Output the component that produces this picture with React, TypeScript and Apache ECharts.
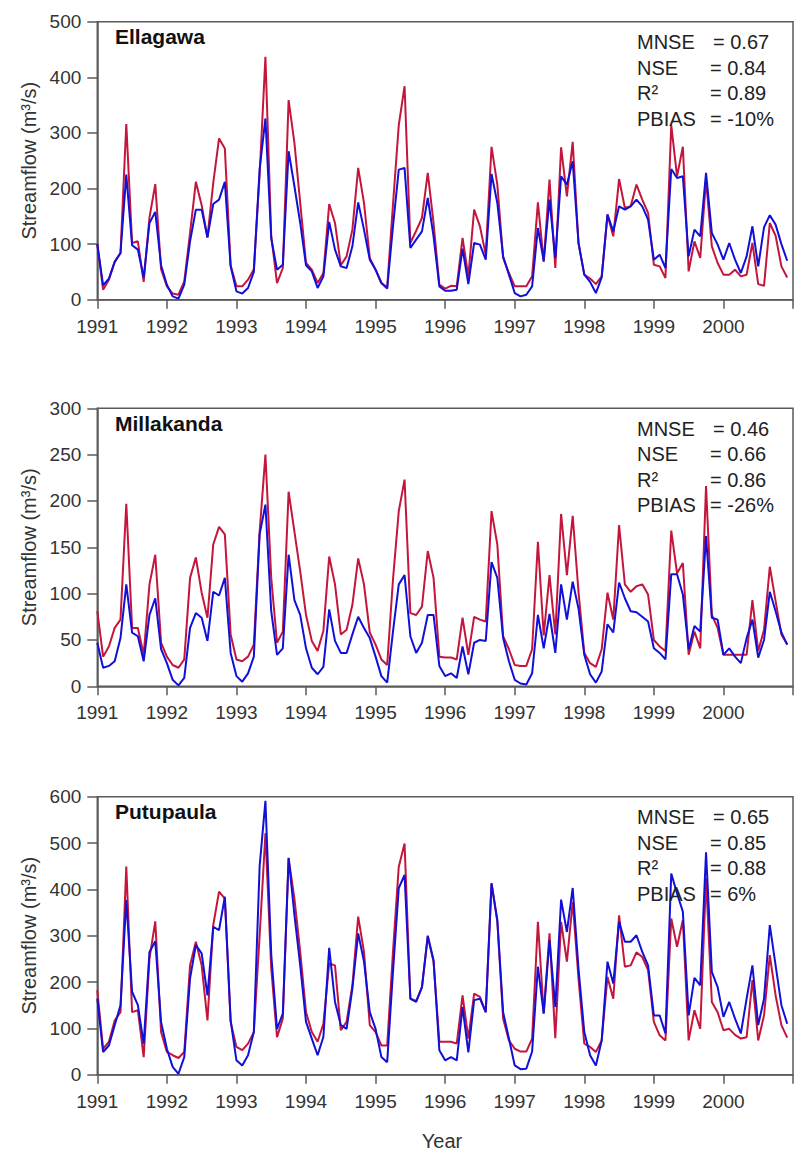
import React, { useEffect, useRef } from "react";
import * as echarts from "echarts";

// Year tick labels on every x axis
const yearTicks = [1991, 1992, 1993, 1994, 1995, 1996, 1997, 1998, 1999, 2000];

// Monthly streamflow (m3/s), Jan 1991 onward; red = observed, blue = simulated
const ellagawaObs = [
  100, 18, 36, 68, 84, 316, 102, 105, 32, 148,
  208, 55, 24, 11, 9, 33, 120, 212, 170, 112,
  210, 290, 272, 62, 24, 24, 36, 55, 225, 437,
  115, 30, 57, 359, 282, 174, 66, 54, 30, 48,
  172, 138, 62, 78, 126, 237, 174, 75, 54, 30,
  22, 171, 314, 384, 102, 124, 147, 228, 138, 27,
  20, 25, 24, 111, 42, 162, 132, 81, 275, 207,
  75, 48, 24, 24, 24, 42, 175, 68, 216, 57,
  274, 186, 284, 102, 45, 38, 28, 42, 153, 114,
  217, 165, 168, 207, 180, 156, 63, 60, 39, 314,
  222, 275, 51, 105, 75, 216, 96, 66, 45, 45,
  54, 42, 45, 102, 28, 25, 138, 115, 60, 40,
];
const ellagawaSim = [
  100, 26, 38, 68, 84, 225, 98, 90, 40, 138,
  158, 62, 27, 6, 2, 27, 105, 162, 162, 112,
  172, 180, 212, 60, 15, 11, 21, 50, 235, 326,
  110, 54, 63, 267, 204, 138, 62, 51, 21, 42,
  140, 90, 60, 57, 96, 175, 126, 72, 54, 30,
  20, 132, 234, 237, 93, 108, 123, 183, 114, 24,
  16, 16, 18, 92, 28, 102, 99, 72, 226, 174,
  78, 45, 12, 6, 9, 24, 129, 70, 180, 75,
  222, 207, 249, 102, 45, 32, 12, 40, 153, 123,
  168, 162, 168, 180, 168, 144, 72, 81, 57, 235,
  219, 222, 78, 126, 114, 228, 120, 99, 72, 102,
  72, 48, 78, 132, 60, 130, 152, 135, 100, 70,
];
const millakandaObs = [
  81, 32, 43, 63, 72, 197, 63, 63, 34, 110,
  142, 47, 32, 23, 20, 29, 117, 139, 101, 74,
  153, 172, 164, 56, 29, 27, 32, 45, 167, 250,
  117, 47, 59, 210, 167, 124, 77, 49, 38, 60,
  140, 110, 56, 61, 88, 138, 110, 58, 45, 29,
  23, 115, 189, 223, 79, 77, 86, 146, 117, 32,
  31, 31, 29, 74, 34, 75, 72, 70, 189, 153,
  54, 40, 23, 22, 22, 40, 156, 55, 120, 56,
  186, 120, 184, 102, 36, 25, 21, 40, 101, 72,
  174, 110, 102, 108, 110, 99, 50, 43, 38, 168,
  122, 133, 34, 59, 41, 216, 77, 63, 34, 34,
  34, 34, 34, 93, 38, 61, 129, 92, 56, 45,
];
const millakandaSim = [
  47, 20, 22, 27, 52, 110, 58, 54, 27, 77,
  95, 40, 25, 7, 1, 9, 63, 79, 74, 49,
  102, 98, 117, 36, 11, 5, 14, 32, 164, 196,
  81, 34, 41, 142, 93, 77, 41, 20, 13, 21,
  83, 49, 36, 36, 56, 75, 63, 52, 32, 11,
  4, 59, 110, 120, 54, 36, 47, 77, 77, 22,
  11, 14, 9, 43, 13, 47, 50, 49, 134, 117,
  52, 27, 7, 3, 2, 14, 77, 41, 78, 36,
  110, 72, 113, 84, 34, 13, 4, 16, 67, 58,
  112, 95, 81, 80, 75, 70, 41, 36, 29, 121,
  121, 99, 40, 65, 59, 162, 74, 72, 34, 41,
  32, 25, 52, 72, 31, 50, 102, 81, 58, 45,
];
const putupaulaObs = [
  182, 56, 71, 117, 135, 449, 135, 139, 38, 251,
  331, 92, 49, 42, 36, 49, 236, 287, 236, 117,
  323, 395, 380, 114, 60, 53, 67, 92, 300, 521,
  230, 81, 121, 467, 380, 265, 135, 92, 71, 110,
  240, 236, 96, 114, 193, 341, 265, 107, 92, 63,
  63, 265, 449, 499, 164, 159, 189, 298, 244, 71,
  71, 71, 67, 171, 78, 175, 168, 135, 413, 330,
  121, 74, 56, 50, 50, 78, 330, 132, 305, 79,
  330, 244, 373, 208, 67, 60, 49, 74, 211, 164,
  344, 233, 236, 264, 254, 226, 114, 85, 74, 337,
  276, 334, 74, 139, 99, 424, 157, 135, 96, 99,
  86, 78, 81, 204, 74, 128, 258, 171, 107, 80,
];
const putupaulaSim = [
  164, 49, 63, 107, 150, 377, 179, 150, 67, 265,
  288, 114, 56, 17, 2, 38, 208, 280, 262, 171,
  319, 312, 384, 117, 31, 20, 42, 92, 450, 591,
  260, 99, 132, 468, 345, 236, 114, 78, 42, 82,
  274, 157, 107, 99, 186, 305, 244, 135, 99, 38,
  27, 222, 403, 431, 164, 157, 189, 300, 247, 53,
  31, 38, 31, 146, 48, 161, 164, 135, 413, 334,
  135, 78, 20, 12, 13, 50, 233, 132, 290, 146,
  378, 308, 403, 229, 92, 42, 20, 74, 244, 197,
  330, 287, 287, 301, 265, 236, 128, 128, 89, 434,
  391, 352, 128, 209, 193, 480, 222, 189, 125, 157,
  121, 89, 164, 236, 107, 164, 323, 236, 150, 110,
];

// Performance statistics per station
const statLabels = ["MNSE", "NSE", "R²", "PBIAS"];
const ellagawaStats = ["= 0.67", "= 0.84", "= 0.89", "= -10%"];
const millakandaStats = ["= 0.46", "= 0.66", "= 0.86", "= -26%"];
const putupaulaStats = ["= 0.65", "= 0.85", "= 0.88", "= 6%"];

const stationNames = ["Ellagawa", "Millakanda", "Putupaula"];
const yMaxes = [500, 300, 600];
const ySteps = [100, 50, 100];

const FONT = "'Liberation Sans', Arial, sans-serif";
const RED = "#C4163C";
const BLUE = "#1010D8";
const AXIS = "#5a5a5a";
const TEXT = "#333333";

export default function App() {
  const ref = useRef<HTMLDivElement>(null);

  useEffect(() => {
    if (!ref.current) return;
    const chart = echarts.init(ref.current, undefined, { renderer: "svg" });

    const obsList = [ellagawaObs, millakandaObs, putupaulaObs];
    const simList = [ellagawaSim, millakandaSim, putupaulaSim];
    const statList = [ellagawaStats, millakandaStats, putupaulaStats];
    const tops = [21.7, 408.3, 796.7];
    const left = 97.3;
    const gridH = 278;

    const grids: any[] = [];
    const xAxes: any[] = [];
    const yAxes: any[] = [];
    const series: any[] = [];
    const graphics: any[] = [];

    for (let k = 0; k < 3; k++) {
      grids.push({
        left,
        top: tops[k],
        width: 712,
        height: gridH,
        show: true,
        borderColor: AXIS,
        borderWidth: 1.5,
        backgroundColor: "transparent",
      });
      xAxes.push({
        gridIndex: k,
        type: "value",
        min: 1991,
        max: 2001,
        interval: 1,
        axisLine: { show: true, lineStyle: { color: AXIS, width: 1.5 } },
        axisTick: { show: true, length: 9, lineStyle: { color: AXIS, width: 1.5 } },
        axisLabel: {
          margin: 17,
          fontSize: 19,
          color: TEXT,
          fontFamily: FONT,
          formatter: (v: number) => (yearTicks.includes(v) ? String(v) : ""),
        },
        splitLine: { show: false },
      });
      yAxes.push({
        gridIndex: k,
        type: "value",
        min: 0,
        max: yMaxes[k],
        interval: ySteps[k],
        name: "Streamflow (m³/s)",
        nameLocation: "middle",
        nameGap: 57,
        nameRotate: 90,
        nameTextStyle: { fontSize: 20, color: TEXT, fontFamily: FONT },
        axisLine: { show: true, lineStyle: { color: AXIS, width: 1.5 } },
        axisTick: { show: true, length: 10, lineStyle: { color: AXIS, width: 1.5 } },
        axisLabel: { margin: 16, fontSize: 19, color: TEXT, fontFamily: FONT },
        splitLine: { show: false },
      });
      series.push({
        type: "line",
        xAxisIndex: k,
        yAxisIndex: k,
        data: obsList[k].map((v, i) => [1991 + i / 12, v]),
        showSymbol: false,
        symbol: "none",
        lineStyle: { color: RED, width: 2 },
        itemStyle: { color: RED },
        z: 2,
      });
      series.push({
        type: "line",
        xAxisIndex: k,
        yAxisIndex: k,
        data: simList[k].map((v, i) => [1991 + i / 12, v]),
        showSymbol: false,
        symbol: "none",
        lineStyle: { color: BLUE, width: 2 },
        itemStyle: { color: BLUE },
        z: 3,
      });

      graphics.push({
        type: "text",
        z: 10,
        style: {
          text: stationNames[k],
          x: 115,
          y: tops[k] + 15,
          textAlign: "left",
          textVerticalAlign: "middle",
          fontSize: 21,
          fontWeight: "bold",
          fontFamily: FONT,
          fill: "#111",
        },
      });
      for (let r = 0; r < 4; r++) {
        const cy = tops[k] + 20.5 + r * 25.5;
        graphics.push({
          type: "text",
          z: 10,
          style: {
            text: statLabels[r],
            x: 637,
            y: cy,
            textAlign: "left",
            textVerticalAlign: "middle",
            fontSize: 20,
            fontFamily: FONT,
            fill: "#222",
          },
        });
        graphics.push({
          type: "text",
          z: 10,
          style: {
            text: statList[k][r],
            x: r === 0 ? 713 : 710,
            y: cy,
            textAlign: "left",
            textVerticalAlign: "middle",
            fontSize: 20,
            fontFamily: FONT,
            fill: "#222",
          },
        });
      }
    }

    graphics.push({
      type: "text",
      style: {
        text: "Year",
        x: 442,
        y: 1141,
        textAlign: "center",
        textVerticalAlign: "middle",
        fontSize: 20,
        fontFamily: FONT,
        fill: TEXT,
      },
    });

    chart.setOption({
      animation: false,
      backgroundColor: "#ffffff",
      textStyle: { fontFamily: FONT },
      grid: grids,
      xAxis: xAxes,
      yAxis: yAxes,
      series,
      graphic: graphics,
    });

    return () => chart.dispose();
  }, []);

  return (
    <div
      ref={ref}
      style={{ position: "absolute", left: 0, top: 0, width: 796, height: 1151 }}
    />
  );
}
